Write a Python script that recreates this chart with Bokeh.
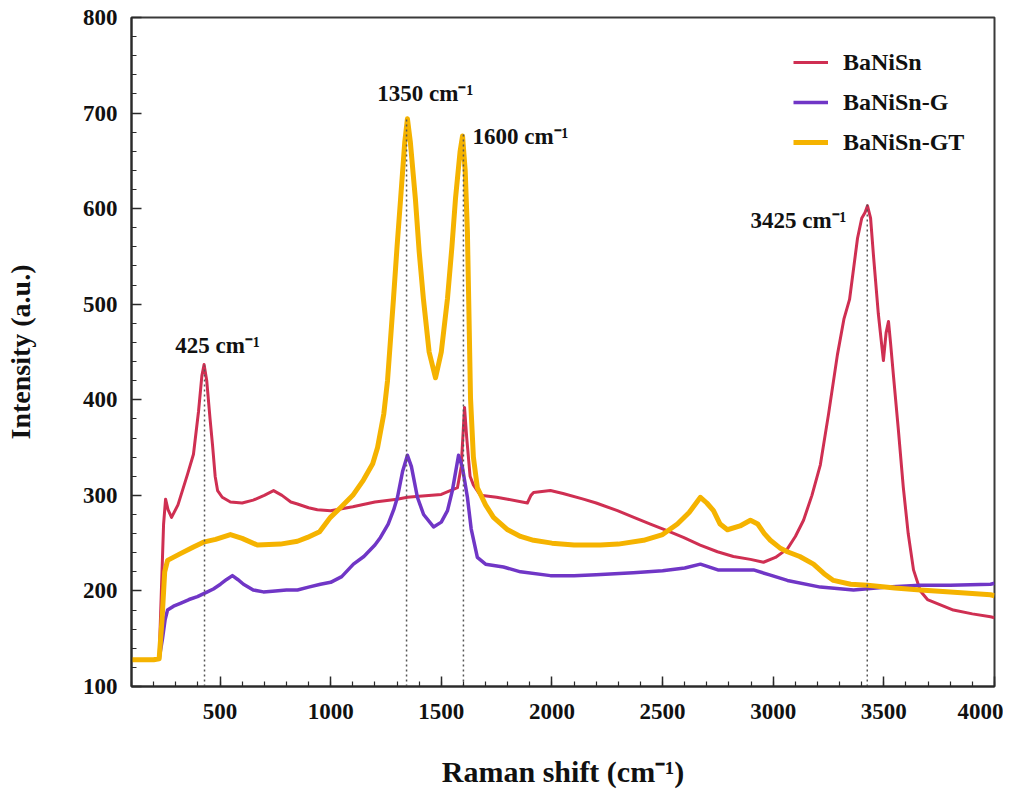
from bokeh.plotting import figure
from bokeh.models import Range1d, SingleIntervalTicker, Legend, LegendItem, ColumnDataSource
from bokeh.core.properties import value
from bokeh.embed import file_html
from bokeh.resources import INLINE

# ---------------- data ----------------
banisn_x = [100, 150, 200, 225, 235, 245, 254, 265, 281, 310, 353, 380, 403, 418, 428, 440, 455, 466,
            478, 489, 510, 547, 600, 650, 700, 742, 780, 820, 850, 900, 940, 1000, 1100, 1200, 1300,
            1347, 1400, 1500, 1573, 1590, 1605, 1615, 1630, 1645, 1677, 1750, 1800, 1889, 1905, 1917,
            1993, 2050, 2142, 2200, 2296, 2370, 2445, 2520, 2594, 2670, 2748, 2820, 2897, 2956, 3010,
            3064, 3100, 3137, 3175, 3213, 3250, 3290, 3320, 3345, 3381, 3400, 3415, 3426, 3440, 3453,
            3475, 3498, 3510, 3521, 3530, 3543, 3565, 3588, 3610, 3634, 3665, 3697, 3750, 3814, 3900,
            3982, 4000]
banisn_y = [128, 128, 128, 130, 200, 270, 296, 285, 277, 290, 322, 343, 388, 425, 437, 420, 380, 353,
            320, 305, 298, 293, 292, 295, 300, 305, 300, 293, 291, 287, 285, 284, 288, 293, 296,
            298, 299, 301, 308, 330, 392, 360, 320, 311, 300, 298, 296, 292, 300, 303,
            305, 302, 296, 292, 284, 277, 270, 263, 256, 248, 241, 236, 233, 230, 235,
            244, 257, 274, 300, 332, 385, 447, 485, 505, 569, 590, 596, 603, 590, 551,
            490, 441, 470, 482, 460, 426, 370, 308, 260, 222, 200, 191, 186, 180, 176,
            173, 172]

banisn_g_x = [100, 200, 225, 240, 252, 263, 290, 321, 360, 398, 443, 470, 502, 530, 556, 580, 606, 650,
              696, 750, 800, 850, 900, 954, 1000, 1050, 1103, 1150, 1200, 1225, 1260, 1285, 1302, 1325,
              1347, 1365, 1392, 1420, 1465, 1500, 1528, 1550, 1578, 1595, 1618, 1635, 1663, 1700, 1781,
              1858, 1993, 2100, 2200, 2368, 2500, 2600, 2671, 2750, 2820, 2911, 2980, 3064, 3213, 3363,
              3516, 3665, 3800, 3982, 4000]
banisn_g_y = [128, 128, 129, 150, 170, 180, 184, 187, 191, 194, 199, 202, 207, 212, 216, 212, 207, 201,
              199, 200, 201, 201, 204, 207, 209, 215, 228, 236, 248, 256, 270, 285, 298, 325,
              342, 330, 298, 280, 267, 272, 284, 305, 342, 330, 298, 265, 235, 228, 225,
              220, 216, 216, 217, 219, 221, 224, 228, 222, 222, 222, 217, 211, 204, 201,
              204, 206, 206, 207, 208]

banisn_gt_x = [100, 200, 225, 238, 250, 263, 321, 380, 425, 480, 547, 600, 669, 773, 850, 895, 950, 999,
               1044, 1100, 1148, 1190, 1212, 1240, 1257, 1284, 1300, 1316, 1335, 1347, 1360, 1383, 1400,
               1419, 1445, 1474, 1500, 1528, 1548, 1564, 1585, 1596, 1608, 1618, 1625, 1632, 1645, 1663,
               1700, 1736, 1800, 1858, 1917, 2000, 2100, 2219, 2300, 2414, 2500, 2567, 2620, 2671, 2700,
               2730, 2760, 2793, 2850, 2897, 2930, 2960, 2987, 3030, 3064, 3120, 3182, 3230, 3272, 3350,
               3426, 3550, 3665, 3800, 3982, 4000]
banisn_gt_y = [128, 128, 129, 170, 220, 232, 239, 246, 251, 254, 259, 255, 248, 249, 252, 256, 262, 277,
               287, 300, 316, 333, 350, 385, 420, 506, 560, 610, 670, 694, 670, 610, 555,
               506, 450, 423, 450, 506, 560, 610, 660, 676, 640, 576, 490, 402, 340, 308,
               290, 277, 264, 257, 253, 250, 248, 248, 249, 253, 259, 270, 282, 298, 292,
               284, 270, 264, 268, 274, 270, 260, 253, 245, 241, 236, 228, 218, 211, 207,
               206, 203, 201, 199, 196, 195]

series_names = ["BaNiSn", "BaNiSn-G", "BaNiSn-GT"]

peak_x = [430, 1343, 1600, 3425]
peak_top = [436, 696, 680, 605]
peak_labels = ["425 cm\u207b\u00b9", "1350 cm\u207b\u00b9", "1600 cm\u207b\u00b9", "3425 cm\u207b\u00b9"]
label_x = [489, 1428, 1858, 3114]
label_y = [457, 720, 676, 588]

x_ticks_interval = 500
y_ticks_interval = 100

# ---------------- styling ----------------
FONT = "Liberation Serif"
colors = ["#cf2f52", "#7036c6", "#f5b300"]
widths = [3, 3.5, 5]

p = figure(width=1003, height=790,
           x_range=Range1d(100, 4000), y_range=Range1d(100, 800),
           output_backend="svg", toolbar_location=None,
           min_border_left=131, min_border_right=9, min_border_top=17, min_border_bottom=100)

p.xgrid.visible = False
p.ygrid.visible = False
p.outline_line_color = "#3a3a3a"
p.outline_line_width = 2
p.outline_line_alpha = 1

p.xaxis.ticker = SingleIntervalTicker(interval=x_ticks_interval, num_minor_ticks=5)
p.yaxis.ticker = SingleIntervalTicker(interval=y_ticks_interval, num_minor_ticks=5)

for ax in (p.xaxis[0], p.yaxis[0]):
    ax.axis_line_color = "#2a2a2a"
    ax.axis_line_width = 2
    ax.major_tick_in = 10
    ax.major_tick_out = 0
    ax.minor_tick_in = 5
    ax.minor_tick_out = 0
    ax.major_tick_line_color = "#2a2a2a"
    ax.major_tick_line_width = 1.5
    ax.minor_tick_line_color = "#2a2a2a"
    ax.minor_tick_line_width = 1.2
    ax.major_label_text_font = FONT
    ax.major_label_text_font_style = "bold"
    ax.major_label_text_font_size = "23px"
    ax.major_label_text_color = "#111111"
    ax.axis_label_text_font = FONT
    ax.axis_label_text_font_style = "bold"
    ax.axis_label_text_color = "#111111"

p.xaxis.axis_label = "Raman shift (cm\u207b\u00b9)"
p.yaxis.axis_label = "Intensity (a.u.)"
p.xaxis.axis_label_text_font_size = "30px"
p.yaxis.axis_label_text_font_size = "28px"
p.xaxis.major_label_standoff = 17
p.yaxis.major_label_standoff = 14
p.xaxis.axis_label_standoff = 33
p.yaxis.axis_label_standoff = 44

renderers = []
for xs, ys, c, w in zip([banisn_x, banisn_g_x, banisn_gt_x],
                        [banisn_y, banisn_g_y, banisn_gt_y], colors, widths):
    r = p.line(xs, ys, line_color=c, line_width=w, line_join="round")
    renderers.append(r)

p.segment(x0=peak_x, y0=[100] * len(peak_x), x1=peak_x, y1=peak_top,
          line_color="#555555", line_width=1.5, line_dash="2 3")

lab_src = ColumnDataSource(dict(x=label_x, y=label_y, t=peak_labels))
p.text(x="x", y="y", text="t", source=lab_src,
       text_font=value(FONT), text_font_style="bold", text_font_size="23px",
       text_color="#111111", text_align="center", text_baseline="middle")

legend = Legend(items=[LegendItem(label=n, renderers=[r]) for n, r in zip(series_names, renderers)],
                location=(662, 530), glyph_width=35, glyph_height=28, label_height=28,
                spacing=12, padding=0, margin=0, label_standoff=15,
                label_text_font=FONT, label_text_font_style="bold",
                label_text_font_size="24px", label_text_color="#111111",
                border_line_alpha=0, background_fill_alpha=0)
p.add_layout(legend)

open("out.html", "w").write(file_html(p, INLINE))
